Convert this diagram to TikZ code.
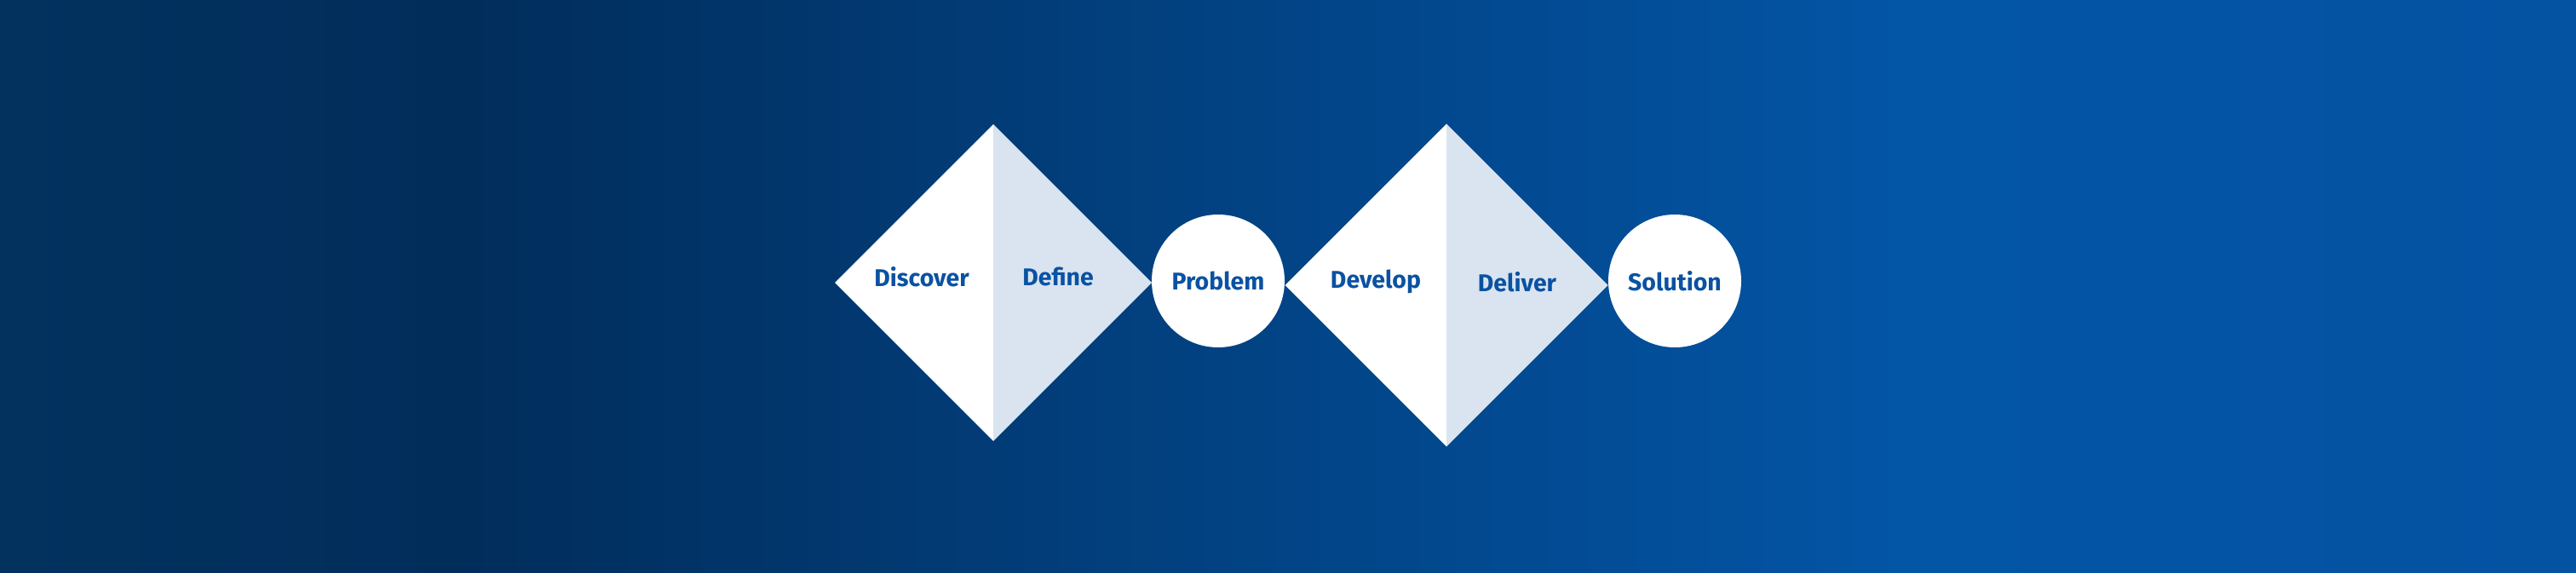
\documentclass[tikz,border=0pt]{standalone}
\usepackage{fontspec}
\setmainfont{Fira Sans}
\usetikzlibrary{calc,positioning}

\definecolor{navy}{HTML}{012D5B}
\definecolor{navyedge}{HTML}{03325F}
\definecolor{brightblue}{HTML}{0355A6}
\definecolor{rightblue}{HTML}{0452A2}
\definecolor{labelblue}{HTML}{0A52A2}
\definecolor{halfblue}{HTML}{D9E4F0}

% the path covers 25bp to 75bp of the shading
\pgfdeclarehorizontalshading{bgshade}{100bp}{%
    color(0bp)=(navyedge); color(25bp)=(navyedge); color(34bp)=(navy);
    color(62bp)=(brightblue); color(75bp)=(rightblue); color(100bp)=(rightblue)}

\begin{document}
\begin{tikzpicture}[
        %We set the sizes and define some styles
        x=1cm, y=1cm,
        left half/.style={fill=white},
        right half/.style={fill=halfblue},
        stage/.style={circle, fill=white, minimum size=1.56cm, inner sep=0pt},
        every node/.style={text=labelblue, font=\fontsize{8.1}{9}\selectfont\bfseries},
    ]
    % background and bounding box
    \shade[shading=bgshade] (0,0) rectangle (30.24,6.72);
    \useasboundingbox (0,0) rectangle (30.24,6.72);

    % Important coordinates are defined
    \coordinate (d1) at (11.66,3.40);
    \coordinate (d2) at (16.98,3.37);

    % first diamond
    \fill[left half] ($(d1)+(0,1.86)$) -- ($(d1)+(-1.86,0)$) -- ($(d1)+(0,-1.86)$) -- cycle;
    \fill[right half] ($(d1)+(0,1.86)$) -- ($(d1)+(1.86,0)$) -- ($(d1)+(0,-1.86)$) -- cycle;
    % second diamond
    \fill[left half] ($(d2)+(0,1.895)$) -- ($(d2)+(-1.895,0)$) -- ($(d2)+(0,-1.895)$) -- cycle;
    \fill[right half] ($(d2)+(0,1.895)$) -- ($(d2)+(1.895,0)$) -- ($(d2)+(0,-1.895)$) -- cycle;

    % circles
    \node[stage] (problem) at (14.30,3.42) {Problem};
    \node[stage] (solution) at (19.66,3.42) {Solution};

    % labels of the diamonds
    \node (discover) at (10.82,3.47) {Discover};
    \node (define) at (12.42,3.47) {Define};
    \node (develop) at (16.15,3.41) {Develop};
    \node (deliver) at (17.81,3.41) {Deliver};
\end{tikzpicture}
\end{document}
